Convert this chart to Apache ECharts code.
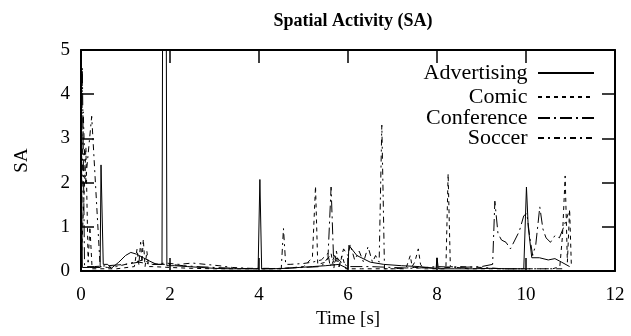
<!DOCTYPE html>
<html>
<head>
<meta charset="utf-8">
<script src="https://cdn.jsdelivr.net/npm/echarts@6/dist/echarts.min.js"></script>
<style>html,body{margin:0;padding:0;background:#fff}#c{width:631px;height:336px}</style>
</head>
<body>
<div id="c"></div>
<script>
var seriesNames = ['Advertising', 'Comic', 'Conference', 'Soccer'];
var xTicks = [0, 2, 4, 6, 8, 10, 12];
var yTicks = [0, 1, 2, 3, 4, 5];

var advT = [0, 0.03, 0.2, 0.43, 0.45, 0.5, 0.6, 0.68, 0.85, 1.0, 1.12, 1.25, 1.4, 1.55, 1.7, 1.82, 1.84, 1.91, 1.93, 2.1, 2.4, 2.7, 3.0, 3.3, 3.6, 3.9, 3.98, 4.02, 4.06, 4.3, 4.6, 4.9, 5.2, 5.5, 5.8, 6.0, 6.02, 6.2, 6.5, 6.8, 7.2, 7.6, 7.98, 8.0, 8.03, 8.4, 8.8, 9.2, 9.6, 9.95, 10.01, 10.05, 10.13, 10.3, 10.5, 10.65, 10.8, 10.98];
var advV = [3.6, 0.08, 0.08, 0.08, 2.4, 0.15, 0.15, 0.06, 0.2, 0.35, 0.42, 0.38, 0.3, 0.22, 0.15, 0.15, 8, 8, 0.12, 0.12, 0.1, 0.08, 0.06, 0.05, 0.05, 0.05, 0.05, 2.07, 0.05, 0.05, 0.06, 0.08, 0.1, 0.12, 0.15, 0.05, 0.58, 0.35, 0.2, 0.15, 0.12, 0.1, 0.06, 0.3, 0.05, 0.05, 0.05, 0.06, 0.05, 0.05, 1.9, 1.0, 0.3, 0.3, 0.25, 0.28, 0.2, 0.1];

var comT = [0, 0.06, 0.11, 0.16, 0.2, 0.25, 0.4, 0.8, 1.2, 1.26, 1.3, 1.34, 1.37, 1.4, 1.44, 1.48, 1.52, 1.6, 2.0, 2.5, 3.0, 3.5, 4.0, 4.5, 5.0, 5.2, 5.27, 5.32, 5.5, 5.62, 5.68, 5.74, 5.8, 5.87, 5.95, 6.3, 6.8, 7.3, 7.4, 7.44, 7.5, 7.58, 7.63, 7.7, 8.0, 8.2, 8.25, 8.3, 8.7, 9.2, 9.7, 10.2, 10.6, 10.76, 10.82, 10.88, 10.93, 10.98, 11.02];
var comV = [0.1, 1.5, 2.8, 0.2, 1.0, 0.05, 0.05, 0.05, 0.1, 0.5, 0.15, 0.65, 0.2, 0.72, 0.1, 0.45, 0.1, 0.1, 0.08, 0.06, 0.05, 0.05, 0.05, 0.05, 0.1, 0.3, 1.92, 0.15, 0.2, 0.4, 0.05, 0.45, 0.1, 0.35, 0.05, 0.05, 0.05, 0.05, 0.35, 0.1, 0.2, 0.5, 0.15, 0.05, 0.05, 0.05, 2.2, 0.1, 0.05, 0.05, 0.05, 0.05, 0.05, 0.1, 0.8, 2.15, 0.2, 1.4, 0.1];

var confT = [0, 0.03, 0.08, 0.3, 0.6, 1.0, 1.3, 1.6, 2.0, 2.3, 2.6, 3.0, 3.5, 4.0, 4.5, 5.0, 5.4, 5.55, 5.62, 5.68, 5.75, 5.85, 6.0, 6.5, 7.0, 7.5, 8.0, 8.5, 9.0, 9.25, 9.3, 9.37, 9.45, 9.55, 9.65, 9.75, 9.85, 9.95, 10.02, 10.08, 10.15, 10.22, 10.31, 10.38, 10.45, 10.55, 10.65, 10.75, 10.85, 10.95];
var confV = [0.2, 4.6, 0.1, 0.1, 0.12, 0.15, 0.2, 0.15, 0.15, 0.12, 0.1, 0.08, 0.06, 0.05, 0.06, 0.08, 0.1, 0.3, 1.9, 0.15, 0.3, 0.2, 0.1, 0.1, 0.08, 0.06, 0.1, 0.08, 0.1, 0.15, 1.58, 0.85, 0.7, 0.65, 0.5, 0.7, 0.9, 1.25, 1.3, 0.8, 0.35, 0.6, 1.45, 0.95, 0.75, 0.65, 0.8, 0.75, 1.0, 1.3];

var socT = [0, 0.05, 0.1, 0.24, 0.43, 0.6, 0.8, 1.0, 1.2, 1.4, 1.6, 1.9, 2.2, 2.5, 2.8, 3.1, 3.4, 3.8, 4.2, 4.5, 4.55, 4.6, 4.7, 5.0, 5.2, 5.4, 5.55, 5.6, 5.7, 5.8, 5.9, 6.0, 6.05, 6.15, 6.25, 6.35, 6.45, 6.55, 6.62, 6.7, 6.76, 6.82, 7.0, 7.5, 8.0, 8.5, 9.0, 9.5, 10.0, 10.5, 10.9];
var socV = [0.1, 3.6, 2.0, 3.5, 0.1, 0.08, 0.1, 0.15, 0.2, 0.25, 0.15, 0.18, 0.15, 0.18, 0.15, 0.12, 0.08, 0.06, 0.06, 0.05, 0.96, 0.15, 0.15, 0.17, 0.2, 0.25, 0.4, 0.1, 0.35, 0.1, 0.5, 0.35, 0.6, 0.25, 0.45, 0.2, 0.55, 0.2, 0.35, 0.2, 3.3, 0.05, 0.05, 0.08, 0.06, 0.1, 0.08, 0.05, 0.05, 0.05, 0.05];

function pairs(t, v) { return t.map(function (x, i) { return [x, v[i]]; }); }

var FONT = '"Liberation Serif", "DejaVu Serif", serif';
var dashes = ['solid', [4, 4], [12, 4, 2, 4], [6, 4, 2, 4]];
var allData = [pairs(advT, advV), pairs(comT, comV), pairs(confT, confV), pairs(socT, socV)];
var legendCenters = [73, 97, 118, 138];

var chart = echarts.init(document.getElementById('c'), null, {renderer: 'canvas'});

function axisBase(extra) {
  return Object.assign({
    type: 'value',
    axisLine: {show: true, onZero: false, lineStyle: {color: '#000', width: 2}},
    axisTick: {show: true, inside: true, length: 13, lineStyle: {color: '#000', width: 1.5}},
    splitLine: {show: false}
  }, extra);
}

var option = {
  animation: false,
  backgroundColor: '#fff',
  title: {
    text: 'Spatial Activity (SA)',
    left: 348, top: 7, textAlign: 'center',
    textStyle: {fontFamily: FONT, fontWeight: 'bold', fontSize: 18, color: '#000'}
  },
  grid: {left: 81, right: 16, top: 50, bottom: 65, containLabel: false},
  legend: seriesNames.map(function (n, i) {
    return {
      data: [n], right: 36, top: legendCenters[i] - 11, orient: 'vertical', align: 'right',
      padding: 0, itemWidth: 56, itemHeight: 10, selectedMode: false,
      itemStyle: {opacity: 0},
      formatter: function (name) { return name + ' '; },
      textStyle: {fontFamily: FONT, fontSize: 22, color: '#000'}
    };
  }),
  xAxis: [
    axisBase({
      position: 'bottom', min: xTicks[0], max: xTicks[xTicks.length - 1], interval: 2,
      name: 'Time [s]', nameLocation: 'middle', nameGap: 37,
      nameTextStyle: {fontFamily: FONT, fontSize: 19, color: '#000'},
      axisLabel: {margin: 15, fontFamily: FONT, fontSize: 19, color: '#000'}
    }),
    axisBase({
      position: 'top', min: xTicks[0], max: xTicks[xTicks.length - 1], interval: 2,
      axisLabel: {show: false}
    })
  ],
  yAxis: [
    axisBase({
      position: 'left', min: yTicks[0], max: yTicks[yTicks.length - 1], interval: 1,
      name: 'SA', nameLocation: 'middle', nameGap: 49, nameRotate: 90,
      nameTextStyle: {fontFamily: FONT, fontSize: 19, color: '#000'},
      axisLabel: {margin: 11, fontFamily: FONT, fontSize: 19, color: '#000'}
    }),
    axisBase({
      position: 'right', min: yTicks[0], max: yTicks[yTicks.length - 1], interval: 1,
      axisLabel: {show: false}
    })
  ],
  series: seriesNames.map(function (n, i) {
    return {
      name: n, type: 'line', xAxisIndex: 0, yAxisIndex: 0,
      data: allData[i], symbol: 'none', showSymbol: false, clip: true,
      lineStyle: {color: '#000', width: 1, type: dashes[i]},
      itemStyle: {color: '#000'}
    };
  })
};
chart.setOption(option);
</script>
</body>
</html>
